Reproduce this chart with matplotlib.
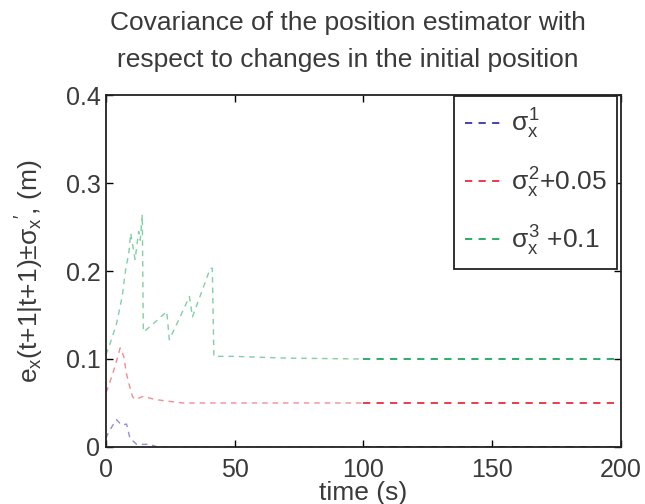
import matplotlib
matplotlib.use("Agg")
import matplotlib.pyplot as plt
import numpy as np

plt.rcParams['font.family'] = ['Liberation Sans', 'DejaVu Sans']
plt.rcParams['mathtext.fontset'] = 'custom'
plt.rcParams['mathtext.rm'] = 'Liberation Sans'
plt.rcParams['mathtext.it'] = 'Liberation Sans'
plt.rcParams['mathtext.sf'] = 'Liberation Sans'

# ---- data ----
t_blue = [0, 0.9, 2.5, 4.1, 6.0, 8.0, 9.3, 11.9, 17, 20, 40, 100, 200]
y_blue = [0.010, 0.016, 0.024, 0.031, 0.025, 0.026, 0.010, 0.003, 0.003, 0.0, 0.0, 0.0, 0.0]

t_red = [0, 0.5, 2.7, 4.2, 5.5, 6.9, 7.9, 9.0, 10.3, 11.2, 14.5, 19, 24.3, 30, 100, 200]
y_red = [0.062, 0.065, 0.084, 0.099, 0.1125, 0.103, 0.084, 0.071, 0.0575, 0.054, 0.0575,
         0.054, 0.052, 0.050, 0.050, 0.050]

t_green = [0, 1.2, 4.0, 6.3, 7.6, 8.9, 9.6, 10.7, 11.3, 12.7, 13.3, 14.1, 14.5, 15.6, 19.5,
           23.6, 24.6, 28.5, 32.4, 33.6, 37.0, 40.5, 41.3, 41.9, 50, 70, 100, 200]
y_green = [0.105, 0.114, 0.139, 0.171, 0.201, 0.221, 0.243, 0.224, 0.213, 0.245, 0.235, 0.264,
           0.131, 0.133, 0.143, 0.154, 0.122, 0.146, 0.171, 0.148, 0.175, 0.203, 0.203, 0.103,
           0.103, 0.101, 0.100, 0.100]

labels = [r'$\sigma_x^1$', r'$\sigma_x^2$+0.05', r'$\sigma_x^3$ +0.1']
colors = ['#3535b0', '#ea2d3a', '#1aa85a']
x_ticks = [0, 50, 100, 150, 200]
y_ticks = [0, 0.1, 0.2, 0.3, 0.4]
y_ticklabels = ['0', '0.1', '0.2', '0.3', '0.4']
title = 'Covariance of the position estimator with\nrespect to changes in the initial position'
t_split = 100

txt = '#3a3a3a'
fig = plt.figure(figsize=(6.45, 5.04), dpi=100)
ax = fig.add_axes([0.1643, 0.1131, 0.7985, 0.6984])

dash = (0, (4, 3.5))
for (t, y), c, lab in zip([(t_blue, y_blue), (t_red, y_red), (t_green, y_green)], colors, labels):
    t = np.asarray(t, float); y = np.asarray(y, float)
    m1 = t <= t_split
    m2 = t >= t_split
    ax.plot(t[m1], y[m1], color=c, lw=1.0, ls=dash, alpha=0.55)
    ax.plot(t[m2], y[m2], color=c, lw=1.3, ls=dash)
    ax.plot([], [], color=c, lw=1.3, ls=dash, label=lab)

ax.set_xlim(0, 200)
ax.set_ylim(0, 0.4)
ax.set_xticks(x_ticks)
ax.set_yticks(y_ticks)
ax.set_yticklabels(y_ticklabels)
ax.tick_params(direction='in', length=5, width=1, top=True, right=True,
               labelsize=18, labelcolor=txt)
ax.tick_params(axis='x', pad=8)
ax.tick_params(axis='y', pad=4)
for s in ax.spines.values():
    s.set_linewidth(1.3)
    s.set_color('#222222')

ax.set_xlabel('time (s)', fontsize=19, color=txt, labelpad=-1)
ax.set_ylabel(r'$e_x$(t+1|t+1)$\pm\sigma_x$$^{\prime}$, (m)', fontsize=19, color=txt, labelpad=14)
ax.set_title(title, fontsize=19, color=txt, pad=20, linespacing=1.7, x=0.47)

leg = ax.legend(loc='upper right', bbox_to_anchor=(0.993, 0.996), fontsize=19,
                frameon=True, fancybox=False, edgecolor='#222222', framealpha=1,
                handlelength=1.5, handletextpad=0.25, labelspacing=0.92,
                borderpad=0.4, borderaxespad=0.0)
leg.get_frame().set_linewidth(1.3)
for tx in leg.get_texts():
    tx.set_color(txt)

fig.savefig('out.png', dpi=100)
